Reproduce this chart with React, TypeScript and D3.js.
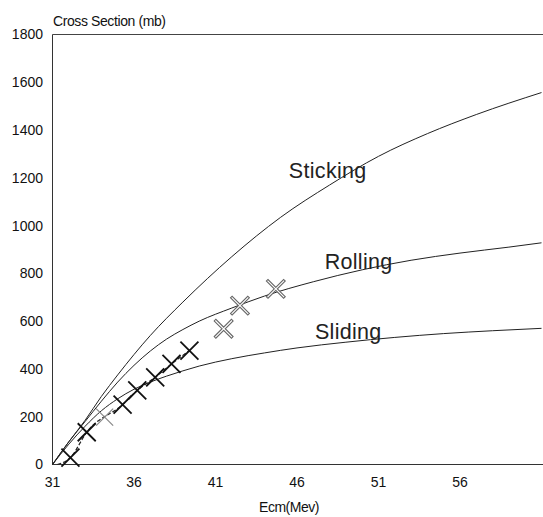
import React from 'react';
import * as d3 from 'd3';

// curve samples (Ecm in MeV, cross section in mb)
const stickingE = [31, 32, 33, 34, 35, 37, 39, 42, 45, 48, 51, 54, 57, 61];
const stickingV = [0, 95, 185, 285, 375, 540, 680, 870, 1035, 1170, 1290, 1385, 1465, 1557];

const rollingE = [31, 32, 33, 34, 35, 36, 37, 38, 39, 40, 42, 44, 47, 50, 53, 56, 59, 61];
const rollingV = [0, 95, 180, 265, 345, 415, 475, 525, 565, 600, 655, 705, 765, 815, 855, 885, 910, 928];

const slidingE = [31, 32, 33, 34, 35, 36, 37, 38, 39, 40, 42, 44, 46, 49, 52, 55, 58, 61];
const slidingV = [0, 85, 160, 225, 275, 315, 345, 370, 392, 412, 443, 467, 488, 512, 532, 548, 560, 570];

// measured points
const blackE = [32.1, 33.1, 35.3, 36.2, 37.3, 38.3, 39.4];
const blackV = [29, 135, 251, 310, 365, 421, 477];
const grayE = [34.2, 41.5, 42.5, 44.7];
const grayV = [198, 568, 665, 735];

const xTicks = [31, 36, 41, 46, 51, 56];
const yTicks = [0, 200, 400, 600, 800, 1000, 1200, 1400, 1600, 1800];

const curveLabels = [
  { text: 'Sticking', e: 45.5, v: 1199 },
  { text: 'Rolling', e: 47.7, v: 818 },
  { text: 'Sliding', e: 47.1, v: 525 },
];

const W = 543;
const H = 517;
const font = '"Liberation Sans", Arial, sans-serif';

export default function App() {
  const x = d3.scaleLinear().domain([31, 61]).range([52.5, 541.5]);
  const y = d3.scaleLinear().domain([0, 1800]).range([464.5, 34.5]);

  const line = d3
    .line<[number, number]>()
    .x(d => x(d[0]))
    .y(d => y(d[1]))
    .curve(d3.curveMonotoneX);

  const zip = (es: number[], vs: number[]) => es.map((e, i) => [e, vs[i]] as [number, number]);

  const curves = [
    zip(stickingE, stickingV),
    zip(rollingE, rollingV),
    zip(slidingE, slidingV),
  ];

  const dashed = [[31.3, 0] as [number, number], ...zip(blackE, blackV)];

  const cross = (cx: number, cy: number, r: number) =>
    `M${cx - r},${cy - r}L${cx + r},${cy + r}M${cx - r},${cy + r}L${cx + r},${cy - r}`;

  return (
    <svg width={W} height={H} style={{ position: 'absolute', left: 0, top: 0, background: '#fff' }}>
      {/* frame */}
      <line x1={52.5} x2={543} y1={34.5} y2={34.5} stroke="#444" strokeWidth={1} />
      <line x1={52.5} x2={52.5} y1={34.5} y2={464.5} stroke="#333" strokeWidth={1} />
      <line x1={52.5} x2={543} y1={464.5} y2={464.5} stroke="#333" strokeWidth={1} />

      {/* tick labels */}
      {yTicks.map(t => (
        <text key={t} x={43} y={y(t)} dy="0.35em" textAnchor="end" fontFamily={font} fontSize={14} fill="#111">
          {t}
        </text>
      ))}
      {xTicks.map(t => (
        <text key={t} x={x(t)} y={487} textAnchor="middle" fontFamily={font} fontSize={14} fill="#111">
          {t}
        </text>
      ))}

      <text x={53} y={26} fontFamily={font} fontSize={14} letterSpacing={-0.4} fill="#111">
        Cross Section (mb)
      </text>
      <text x={289} y={512} textAnchor="middle" fontFamily={font} fontSize={14} letterSpacing={-0.5} fill="#111">
        Ecm(Mev)
      </text>

      {/* model curves */}
      {curves.map((c, i) => (
        <path key={i} d={line(c) || ''} fill="none" stroke="#222" strokeWidth={1} />
      ))}
      <path d={line(dashed) || ''} fill="none" stroke="#222" strokeWidth={1.2} strokeDasharray="4,2" />

      {/* gray markers */}
      {grayE.map((e, i) =>
        i === 0 ? (
          <path key={i} d={cross(x(e), y(grayV[i]), 8.5)} stroke="#888" strokeWidth={1.2} fill="none" />
        ) : (
          <g key={i}>
            <path d={cross(x(e), y(grayV[i]), 9)} stroke="#666" strokeWidth={3.4} fill="none" />
            <path d={cross(x(e), y(grayV[i]), 8.3)} stroke="#fff" strokeWidth={1.1} fill="none" />
          </g>
        )
      )}

      {/* black markers */}
      {blackE.map((e, i) => (
        <path key={i} d={cross(x(e), y(blackV[i]), 9)} stroke="#111" strokeWidth={1.8} fill="none" />
      ))}

      {/* curve labels */}
      {curveLabels.map(l => (
        <text key={l.text} x={x(l.e)} y={y(l.v)} fontFamily={font} fontSize={21.5} letterSpacing={0.3} fill="#222">
          {l.text}
        </text>
      ))}
    </svg>
  );
}
